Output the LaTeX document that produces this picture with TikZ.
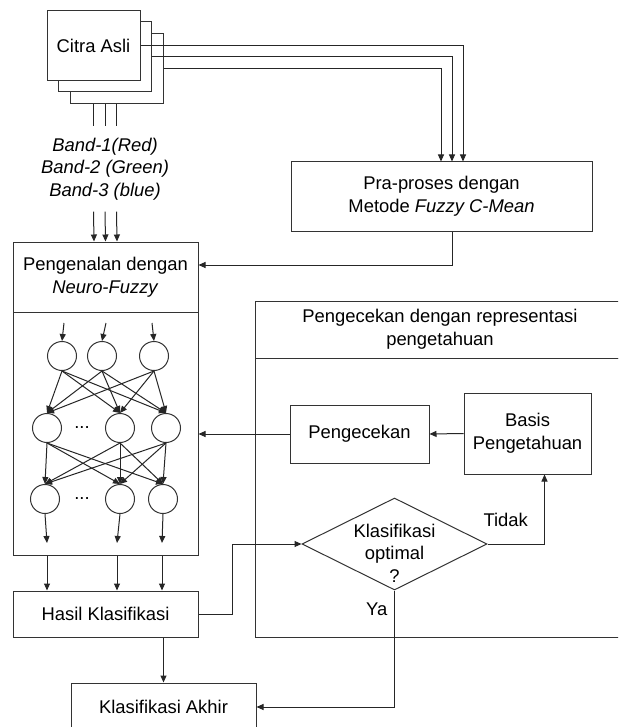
\documentclass[tikz,border=0pt]{standalone}
\usepackage{fontspec}
\setmainfont{Liberation Sans}
\usetikzlibrary{arrows.meta,positioning,shapes.geometric,calc}
\newcommand{\diagfont}{\fontsize{9.2}{11.3}\selectfont}

\begin{document}
\begin{tikzpicture}[
  x=0.5pt, y=-0.5pt, line width=0.5pt,
  font=\diagfont,
  box/.style={rectangle, draw=black!80, fill=white, minimum width=92.5pt, align=center, inner sep=2pt},
  citra/.style={box, minimum width=46.5pt, minimum height=35pt},
  band/.style={align=center, font=\diagfont\itshape, inner ysep=5.5pt},
  neuron/.style={circle, draw=black!80, minimum size=14.5pt, inner sep=0pt},
  decision/.style={diamond, draw=black!80, fill=white, minimum width=92.5pt, minimum height=46pt, inner sep=0pt},
  arrow/.style={-{Triangle[length=3.5pt, width=3pt]}, draw=black!85},
  line/.style={draw=black!85},
]
\useasboundingbox (0,0) rectangle (618,727);
\clip (0,0) rectangle (618,727);

% Citra Asli (3 band)
\node[citra] (citra3) at (116.5,69) {};
\node[citra] (citra2) at (105,57) {};
\node[citra] (citra1) at (93.5,45.5) {Citra Asli};

% Band
\node[band] (bands) at (105,169) {Band-1(Red)\\Band-2 (Green)\\Band-3 (blue)};

% Pra-proses
\node[box, minimum width=150.5pt, minimum height=34.5pt] (pra) at (441.5,196.5) {Pra-proses dengan\\Metode \textit{Fuzzy C-Mean}};

% Pengenalan Neuro-Fuzzy
\node[box, minimum height=35pt] (pengenalan) at (105.5,277) {Pengenalan dengan\\\textit{Neuro-Fuzzy}};
\node[box, minimum height=121.5pt] (jst) at (105.5,433.5) {};

% Neuron
\node[neuron] (n11) at (62,356) {};
\node[neuron] (n12) at (102,356) {};
\node[neuron] (n13) at (154,356) {};
\node[neuron] (n21) at (47,428) {};
\node[neuron] (n22) at (120,428) {};
\node[neuron] (n23) at (166,428) {};
\node[neuron] (n31) at (45,499) {};
\node[neuron] (n32) at (120,499) {};
\node[neuron] (n33) at (163,499) {};
\node (dots2) at (82,428) {...};
\node (dots3) at (82,499) {...};
\coordinate (in1) at (64,323);
\coordinate (in2) at (106,323);
\coordinate (in3) at (152,323);
\coordinate (out1) at (47,543);
\coordinate (out2) at (117,543);
\coordinate (out3) at (162,543);

% Hasil dan Akhir
\node[box, minimum height=23pt] (hasil) at (105.5,614) {Hasil Klasifikasi};
\node[box, minimum height=24pt] (akhir) at (163.5,707) {Klasifikasi Akhir};

% Pengecekan dengan representasi pengetahuan
\node[box, minimum width=185pt, minimum height=28.5pt] (cekjudul) at (440,329.5) {Pengecekan dengan representasi\\pengetahuan};
\node[box, minimum width=185pt, minimum height=139.5pt] (cekisi) at (440,497.5) {};
\node[box, minimum width=69.5pt, minimum height=29pt] (pengecekan) at (359.5,434) {Pengecekan};
\node[box, minimum width=63.5pt, minimum height=40.5pt] (basis) at (527.5,433.5) {Basis\\Pengetahuan};
\node[decision, label={[align=center, yshift=-4.5pt]center:Klasifikasi\\optimal\\?}] (optimal) at (394.5,544) {};

% Arrows
\draw[arrow] (citra1.east) -| ($(pra.north)+(21.5,0)$);
\draw[arrow] (citra2.east) -| ($(pra.north)+(10.5,0)$);
\draw[arrow] (citra3.east) -| ($(pra.north)+(-0.5,0)$);
\foreach \dx in {-11.5,0,11.5} {
  \draw[line] ($(citra3.south)+(\dx-11.5,0)$) -- ($(bands.north)+(\dx,0)$);
  \draw[arrow] ($(bands.south)+(\dx,0)$) -- ($(pengenalan.north)+(\dx,0)$);
}
\draw[arrow] ($(pra.south)+(10.5,0)$) |- ($(pengenalan.east)+(0,-12)$);

\foreach \i in {1,2,3} {
  \draw[arrow] (in\i) -- (n1\i.north);
  \draw[arrow] (n3\i.south) -- (out\i);
  \draw[arrow] (out\i |- jst.south) -- (out\i |- hasil.north);
  \foreach \j in {1,2,3} {
    \draw[arrow] (n1\i.south) -- (n2\j.north);
    \draw[arrow] (n2\i.south) -- (n3\j.north);
  }
}

\draw[arrow] (akhir.north |- hasil.south) -- (akhir.north);
\draw[arrow] (hasil.east) -- ++(34,0) |- (optimal.west);
\draw[arrow] (optimal.east) -| node[pos=0.16, above=5pt] {Tidak} ($(basis.south)+(17,0)$);
\draw[arrow] (optimal.south) |- node[pos=0.08, left] {Ya} (akhir.east);
\draw[arrow] (basis.west) -- (pengecekan.east);
\draw[arrow] (pengecekan.west) -- (pengecekan.west -| jst.east);

\end{tikzpicture}
\end{document}
